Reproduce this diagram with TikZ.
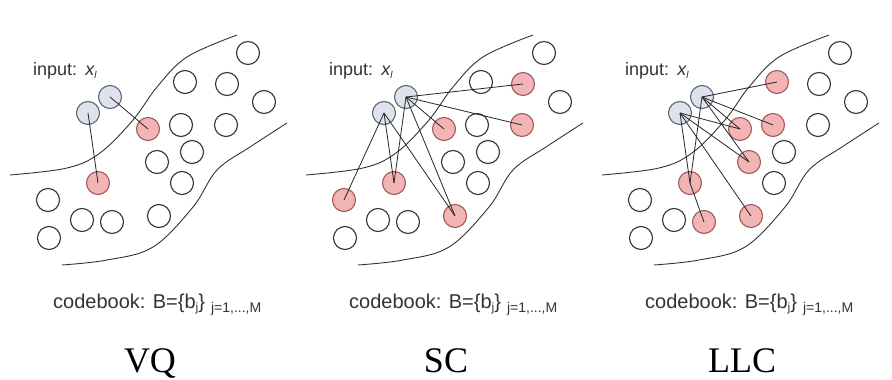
\documentclass[tikz,border=0pt]{standalone}
\usepackage{fontspec}
\setmainfont{Liberation Serif}
\setsansfont{Liberation Sans}
\definecolor{redfill}{HTML}{F2B4B4}
\definecolor{redline}{HTML}{A05A5A}
\definecolor{bluefill}{HTML}{DDE2EC}
\definecolor{blueline}{HTML}{5E6675}
\definecolor{inkc}{HTML}{333333}
\begin{document}
\begin{tikzpicture}[x=1pt,y=-1pt,
  cw/.style={circle,draw=inkc,line width=1.1pt,fill=white,minimum size=23pt,inner sep=0pt},
  cr/.style={fill=redfill,draw=redline},
  cb/.style={cw,fill=bluefill,draw=blueline},
  link/.style={draw=black!85,line width=0.8pt},
  curve/.style={draw=inkc,line width=0.9pt},
  lab/.style={font=\sffamily\fontsize{18}{18}\selectfont,text=inkc,anchor=base west,inner sep=0pt},
  cbk/.style={font=\sffamily\fontsize{20}{20}\selectfont,text=inkc,anchor=base west,inner sep=0pt},
  ttl/.style={font=\fontsize{36}{36}\selectfont,anchor=base,inner sep=0pt},
  c1/.style={},c2/.style={},c3/.style={},c4/.style={},c5/.style={},c6/.style={},
  c7/.style={},c8/.style={},c9/.style={},c10/.style={},c11/.style={},c12/.style={},
  c13/.style={},c14/.style={},c15/.style={},c16/.style={}]
\useasboundingbox (0,0) rectangle (892,380);
\newcommand\ptlist{1/248/53,2/185/82,3/227/84,4/264/102,5/181/125,6/226/125,7/148/129,8/192/152,9/157/162,10/182/183,11/98/183,12/48/200,13/82/220,14/112/222,15/159/216,16/49/238}
\newcommand\commonpanel{%
  \draw[curve] plot[smooth,tension=0.6] coordinates {(10,175) (67,168) (100,153) (133,120) (157,87) (187,57) (237,35)};
  \draw[curve] plot[smooth,tension=0.6] coordinates {(62,265) (107,260) (153,247) (193,207) (217,170) (250,147) (287,123)};
  \foreach \i/\x/\y in \ptlist {\node[cw,c\i] (p\i) at (\x,\y) {};}
  \node[cb] (b1) at (88,113) {};
  \node[cb] (b2) at (110,97) {};
  \node[lab] (in) at (33,75) {input:\hspace{0.45em}{\itshape x}\raisebox{-3pt}{\fontsize{10}{10}\selectfont\itshape l}};
  \node[cbk] (cb) at (53,308) {codebook: B=\{b\raisebox{-3pt}{\fontsize{12}{12}\selectfont j}\}\hspace{0.3em}\raisebox{-4pt}{\fontsize{14}{14}\selectfont j=1,...,M}};
}
% VQ
\begin{scope}[name prefix=vq-, c7/.style=cr, c11/.style=cr]
  \commonpanel
  \draw[link] (b2.center) -- (p7.center);
  \draw[link] (b1.center) -- (p11.center);
  \node[ttl] (t) at (150,372) {VQ};
\end{scope}
% SC
\begin{scope}[shift={(296,0)}, name prefix=sc-, c3/.style=cr, c6/.style=cr, c7/.style=cr, c11/.style=cr, c12/.style=cr, c15/.style=cr]
  \commonpanel
  \foreach \t in {12,11,15} \draw[link] (b1.center) -- (p\t.center);
  \foreach \t in {11,15,7,3,6} \draw[link] (b2.center) -- (p\t.center);
  \node[ttl] (t) at (150,372) {SC};
\end{scope}
% LLC
\begin{scope}[shift={(592,0)}, name prefix=llc-, c2/.style=cr, c5/.style=cr, c7/.style=cr, c9/.style=cr, c11/.style=cr, c14/.style=cr, c15/.style=cr]
  \commonpanel
  \foreach \t in {11,7,9,15} \draw[link] (b1.center) -- (p\t.center);
  \foreach \t in {2,5,7,9,11} \draw[link] (b2.center) -- (p\t.center);
  \draw[link] (p11.center) -- (p14.center);
  \node[ttl] (t) at (150,372) {LLC};
\end{scope}
\end{tikzpicture}
\end{document}
